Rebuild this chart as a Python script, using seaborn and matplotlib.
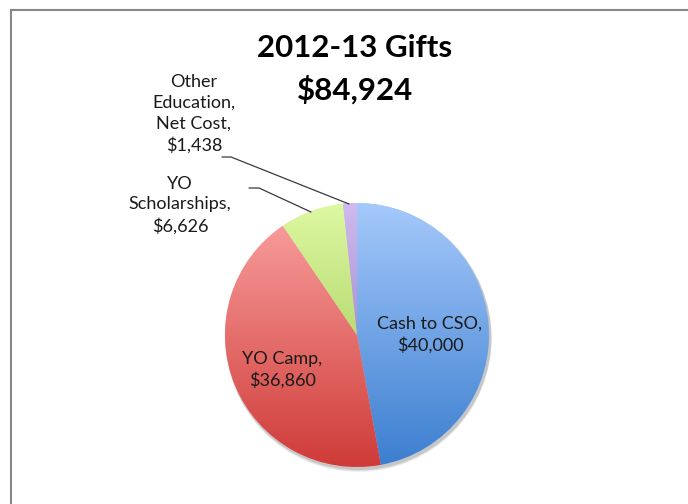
import numpy as np
import matplotlib.pyplot as plt
import seaborn as sns
from matplotlib.colors import LinearSegmentedColormap
from matplotlib.patches import Circle

# data
categories = ['Cash to CSO', 'YO Camp', 'YO Scholarships', 'Other Education, Net Cost']
gifts = [40000, 36860, 6626, 1438]
slice_labels = ['Cash to CSO,\n$40,000', 'YO Camp,\n$36,860',
                'YO\nScholarships,\n$6,626', 'Other\nEducation,\nNet Cost,\n$1,438']
title_lines = ['2012-13 Gifts', '$84,924']

# gradient colours (top -> bottom)
top_colors = ['#a5c9fb', '#fba4a3', '#ddf8a2', '#cfbbee']
bottom_colors = ['#3b7ecf', '#cf3b38', '#96c247', '#8766bc']

sns.set_theme(style='white')
plt.rcParams['font.family'] = ['Lato', 'DejaVu Sans']

W, H = 688, 504
fig = plt.figure(figsize=(W / 100, H / 100), dpi=100)
ax = fig.add_axes([0, 0, 1, 1])

def py(y):
    # pixel row (from top) -> data y
    return H - y

cx, cy, r = 357, py(335), 132

# soft shadow
for k, a in [(4, 0.06), (3, 0.08), (2, 0.10)]:
    ax.add_patch(Circle((cx + 1.5, cy - k), r + 1, color='black', alpha=a, lw=0, zorder=0))

wedges, _ = ax.pie(gifts, startangle=90, counterclock=False, center=(cx, cy), radius=r,
                   colors=top_colors, wedgeprops=dict(linewidth=0))

for w, c0, c1 in zip(wedges, top_colors, bottom_colors):
    cmap = LinearSegmentedColormap.from_list('grad', [c0, c1])
    im = ax.imshow(np.linspace(0, 1, 256).reshape(-1, 1), cmap=cmap, origin='upper',
                   extent=[cx - r, cx + r, cy - r, cy + r], aspect='auto', zorder=2)
    im.set_clip_path(w)

# labels
txt = dict(fontsize=13, color='#1a1a1a', ha='center', va='center',
           multialignment='center', linespacing=1.36, zorder=5)
ax.text(430, py(335), slice_labels[0], **txt)
ax.text(282, py(370), slice_labels[1], **txt)
ax.text(180, py(205), slice_labels[2], **txt)
ax.text(194, py(114), slice_labels[3], **txt)

# leader lines
ax.plot([222, 231, 349], [py(157), py(157), py(204)], color='#3a3a3a', lw=0.9, zorder=4)
ax.plot([249, 259, 311], [py(188), py(188), py(212)], color='#3a3a3a', lw=0.9, zorder=4)

# title
ax.text(355, py(69), '\n'.join(title_lines), fontsize=22.5, fontweight='bold',
        ha='center', va='center', multialignment='center', linespacing=1.55, color='black')

# chart border (top and left visible)
ax.plot([11, 11], [py(10), py(504)], color='#888888', lw=1.5, solid_capstyle='butt')
ax.plot([10, 688], [py(10), py(10)], color='#888888', lw=1.5, solid_capstyle='butt')

ax.set_xlim(0, W)
ax.set_ylim(0, H)
ax.set_aspect('auto')
ax.axis('off')

fig.savefig('out.png', dpi=100, facecolor='white')
